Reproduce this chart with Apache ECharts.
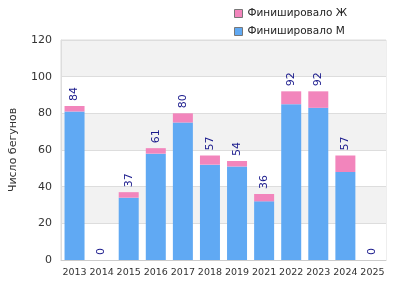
<!DOCTYPE html>
<html><head><meta charset="utf-8">
<script src="https://cdn.jsdelivr.net/npm/echarts@6/dist/echarts.min.js"></script>
<style>html,body{margin:0;padding:0;background:#fff}#c{width:396px;height:300px}</style>
</head><body><div id="c"></div>
<script>
const years = ['2013','2014','2015','2016','2017','2018','2019','2021','2022','2023','2024','2025'];
const men   = [81, 0, 34, 58, 75, 52, 51, 32, 85, 83, 48, 0];
const women = [3, 0, 3, 3, 5, 5, 3, 4, 7, 9, 9, 0];
const totals = men.map((m, i) => m + women[i]);
const yTicks = [0, 20, 40, 60, 80, 100, 120];

const chart = echarts.init(document.getElementById('c'), null, {renderer: 'canvas'});
chart.setOption({
  animation: false,
  textStyle: {fontFamily: 'DejaVu Sans'},
  legend: {
    orient: 'vertical', left: 229, top: 3, itemWidth: 8, itemHeight: 8, itemGap: 7,
    data: ['Финишировало Ж', 'Финишировало М'],
    textStyle: {fontSize: 10.5, color: '#222', fontFamily: 'DejaVu Sans'},
    icon: 'rect',
    itemStyle: {borderColor: '#777', borderWidth: 1}
  },
  grid: {left: 60, right: 10, top: 40, bottom: 40, show: true, borderColor: '#ddd', borderWidth: 1},
  xAxis: {
    type: 'category', data: years,
    axisTick: {show: false},
    axisLine: {lineStyle: {color: '#ccc'}},
    axisLabel: {fontSize: 9.5, color: '#333', interval: 0, margin: 8}
  },
  yAxis: {
    type: 'value', min: yTicks[0], max: yTicks[yTicks.length - 1], interval: 20,
    name: 'Число бегунов', nameLocation: 'middle', nameGap: 42, nameRotate: 90,
    nameTextStyle: {fontSize: 11, color: '#333'},
    axisLabel: {fontSize: 11, color: '#333', margin: 9},
    axisLine: {show: true, lineStyle: {color: '#ddd'}},
    splitLine: {lineStyle: {color: '#ddd'}},
    splitArea: {show: true, areaStyle: {color: ['#ffffff', '#f2f2f2']}}
  },
  series: [
    {
      name: 'Финишировало М', type: 'bar', stack: 'a', data: men, barWidth: 20,
      itemStyle: {color: '#60a9f3', borderWidth: 0}
    },
    {
      name: 'Финишировало Ж', type: 'bar', stack: 'a', data: women, barWidth: 20,
      itemStyle: {color: '#f285bc', borderWidth: 0},
      label: {
        show: true, position: 'top', rotate: 90, align: 'left', verticalAlign: 'middle',
        distance: 5, fontSize: 11, color: '#1a1a8c',
        formatter: p => String(totals[p.dataIndex])
      }
    }
  ]
});
</script></body></html>
